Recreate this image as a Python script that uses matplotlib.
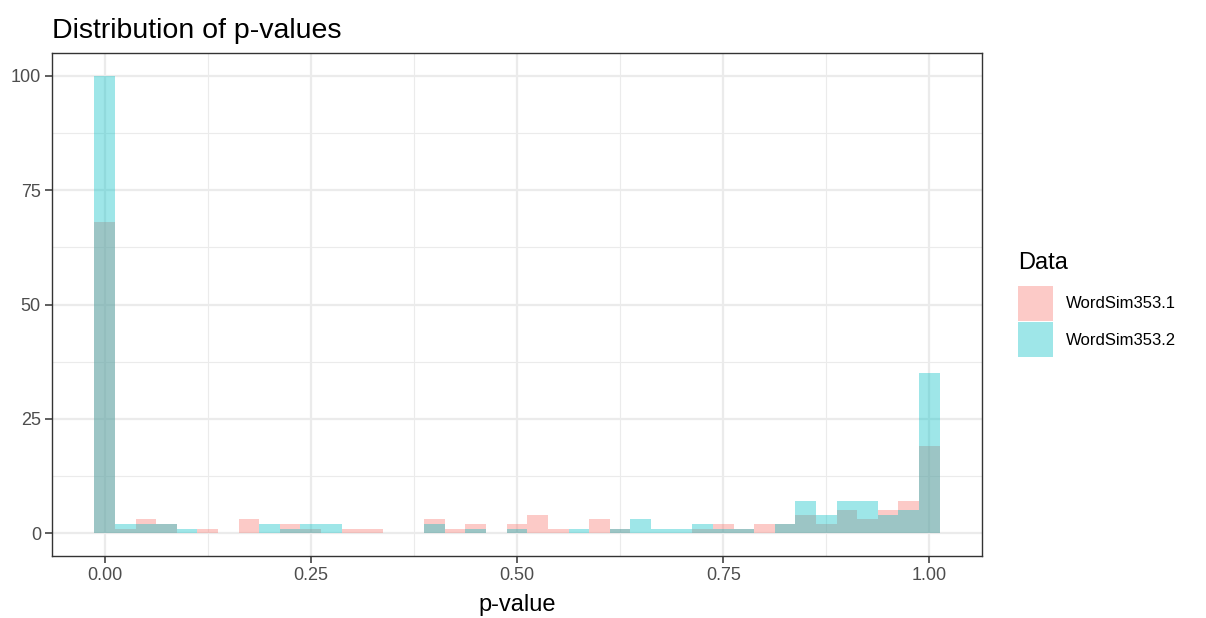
import numpy as np
import matplotlib
matplotlib.use("Agg")
import matplotlib.pyplot as plt
from matplotlib.patches import Patch

plt.rcParams['font.family'] = ['Liberation Sans', 'DejaVu Sans']

# Histogram bins: centres at 0, 0.025, ..., 1.0
bin_width = 0.025
bin_centers = np.arange(41) * bin_width

series_names = ["WordSim353.1", "WordSim353.2"]
counts_ws1 = [68, 1, 3, 2, 0, 1, 0, 3, 0, 2, 1, 0, 1, 1, 0, 0, 3, 1, 2, 0,
              2, 4, 1, 0, 3, 1, 0, 0, 0, 1, 2, 1, 2, 2, 4, 2, 5, 3, 5, 7, 19]
counts_ws2 = [100, 2, 2, 2, 1, 0, 0, 0, 2, 1, 2, 2, 0, 0, 0, 0, 2, 0, 1, 0,
              1, 0, 0, 1, 0, 1, 3, 1, 1, 2, 1, 1, 0, 2, 7, 4, 7, 7, 4, 5, 35]
colors = ["#F8766D", "#00BFC4"]
alpha = 0.38

x_ticks = [0.0, 0.25, 0.5, 0.75, 1.0]
x_labels = ["0.00", "0.25", "0.50", "0.75", "1.00"]
y_ticks = [0, 25, 50, 75, 100]

fig = plt.figure(figsize=(12.06, 6.18), dpi=100)
ax = fig.add_axes([52/1206, 1 - 556/618, (982-52)/1206, (556-53)/618])

for vals, col in zip([counts_ws1, counts_ws2], colors):
    ax.bar(bin_centers, vals, width=bin_width, color=col, alpha=alpha,
           linewidth=0, zorder=3)

lo, hi = bin_centers[0] - bin_width/2, bin_centers[-1] + bin_width/2
pad = (hi - lo) * 0.05
ax.set_xlim(lo - pad, hi + pad)
ax.set_ylim(-5, 105)

ax.set_xticks(x_ticks)
ax.set_xticklabels(x_labels)
ax.set_yticks(y_ticks)
ax.set_xticks([0.125, 0.375, 0.625, 0.875], minor=True)
ax.set_yticks([12.5, 37.5, 62.5, 87.5], minor=True)
ax.grid(which='major', color='#EBEBEB', linewidth=1.6, zorder=0)
ax.grid(which='minor', color='#EBEBEB', linewidth=0.8, zorder=0)
ax.set_axisbelow(True)
ax.tick_params(which='minor', length=0)
ax.tick_params(which='major', length=5, width=1.1, color='#333333',
               labelcolor='#4D4D4D', labelsize=13, pad=3)
for s in ax.spines.values():
    s.set_color('#333333')
    s.set_linewidth(1.0)

ax.set_xlabel("p-value", fontsize=17, color='black', labelpad=7)
fig.text(52/1206, 1 - 31/618, "Distribution of p-values", fontsize=20.5,
         ha='left', va='center')

handles = [Patch(facecolor=c, alpha=alpha, edgecolor='none') for c in colors]
leg = fig.legend(handles, series_names, title="Data", loc='upper left',
                 bbox_to_anchor=(1018/1206, 1 - 252/618), frameon=False,
                 borderpad=0, borderaxespad=0,
                 fontsize=12, title_fontsize=17, handlelength=2.1,
                 handleheight=2.85, handletextpad=0.8, labelspacing=0.1)
leg._legend_box.align = "left"
leg._legend_box.sep = 8.5

fig.savefig("out.png", dpi=100)
